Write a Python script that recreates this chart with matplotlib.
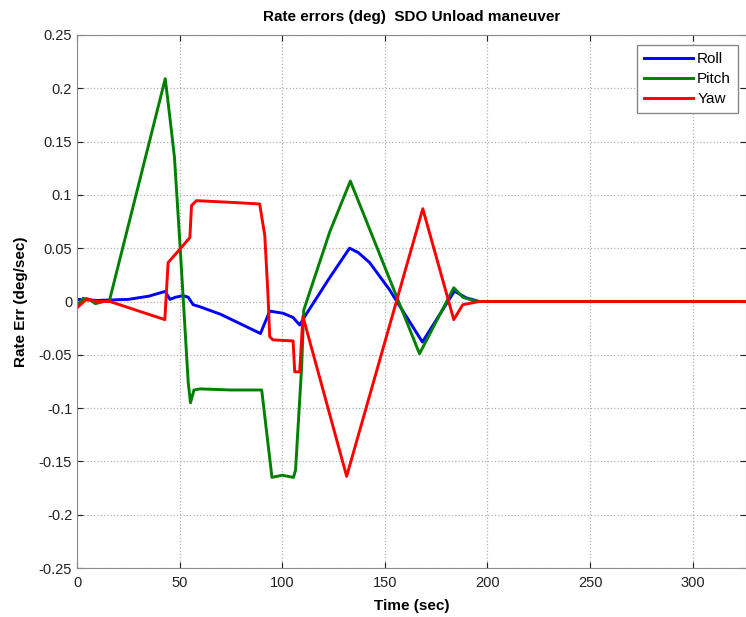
import numpy as np
import matplotlib
matplotlib.use('Agg')
import matplotlib.pyplot as plt

plt.rcParams['font.family'] = ['Liberation Sans', 'DejaVu Sans']
plt.rcParams['axes.unicode_minus'] = False

# breakpoints (time in sec, rate error in deg/sec)
roll_t = [0, 10, 25, 35, 43, 45.3, 48, 51.7, 54.2, 56.6, 60, 70, 89.4, 93.9,
          100.4, 105.3, 108.5, 111, 123, 132.8, 137, 142.6, 152.3, 168.3,
          183.9, 189.6, 196, 326]
roll_v = [0.002, 0.001, 0.002, 0.005, 0.0095, 0.002, 0.004, 0.0055, 0.004,
          -0.003, -0.005, -0.012, -0.030, -0.009, -0.011, -0.015, -0.022,
          -0.014, 0.022, 0.050, 0.046, 0.0365, 0.011, -0.038, 0.0097, 0.0035,
          0.0, 0.0]

pitch_t = [0, 3, 6, 9, 13, 15.7, 43.0, 45.3, 47.5, 50.1, 54.2, 55.3, 57, 60,
           75, 90, 95, 100, 105.5, 106.5, 109.5, 110.5, 123.1, 133.2, 166.9,
           183.6, 188, 194.5, 326]
pitch_v = [-0.004, 0.003, 0.002, -0.002, 0.0, 0.0, 0.209, 0.172, 0.135,
           0.056, -0.076, -0.095, -0.083, -0.082, -0.083, -0.083, -0.165,
           -0.163, -0.165, -0.158, -0.06, -0.008, 0.065, 0.113, -0.049,
           0.0129, 0.004, 0.0, 0.0]

yaw_t = [0, 4.7, 9.6, 16, 42.8, 44.4, 50.1, 55, 55.8, 58.2, 75, 89, 91.5,
         93.1, 93.9, 95.5, 105.3, 106.1, 108.5, 110.1, 131.4, 168.5, 183.6,
         188, 196, 326]
yaw_v = [-0.006, 0.0025, 0.0, 0.0, -0.017, 0.0365, 0.049, 0.060, 0.090,
         0.0946, 0.093, 0.0915, 0.062, 0.005, -0.033, -0.036, -0.037, -0.066,
         -0.066, -0.014, -0.164, 0.087, -0.017, -0.003, 0.0, 0.0]

ytick_labels = ['-0.25', '-0.2', '-0.15', '-0.1', '-0.05', '0', '0.05',
                '0.1', '0.15', '0.2', '0.25']

fig = plt.figure(figsize=(7.46, 6.17), dpi=100)
ax = fig.add_axes([77 / 746, 49 / 617, 669 / 746, 533 / 617])

ax.plot(roll_t, roll_v, color='#0000ff', lw=2.1, label='Roll')
ax.plot(pitch_t, pitch_v, color='#008000', lw=2.1, label='Pitch')
ax.plot(yaw_t, yaw_v, color='#ff0000', lw=2.1, label='Yaw')

ax.set_xlim(0, 326)
ax.set_ylim(-0.25, 0.25)
ax.set_xticks(np.arange(0, 301, 50))
ax.set_yticks(np.linspace(-0.25, 0.25, 11))
ax.set_yticklabels(ytick_labels)

ax.grid(True, linestyle=':', color='#b0b0b0', linewidth=0.9)
ax.tick_params(direction='in', top=True, right=True, labelsize=10.5,
               colors='#222222', length=4)
ax.tick_params(axis='x', pad=6)
for s in ax.spines.values():
    s.set_color('#8a8a8a')

ax.set_title('Rate errors (deg)  SDO Unload maneuver', fontsize=11,
             fontweight='bold', pad=10)
ax.set_xlabel('Time (sec)', fontsize=11, fontweight='bold', labelpad=6)
ax.set_ylabel('Rate Err (deg/sec)', fontsize=11, fontweight='bold', labelpad=8)

leg = ax.legend(loc='upper right', fontsize=11, fancybox=False,
                framealpha=1, edgecolor='#888888', handlelength=3.2,
                labelspacing=0.4, handletextpad=0.3, borderpad=0.45,
                borderaxespad=0, bbox_to_anchor=(0.988, 0.981))
leg.get_frame().set_linewidth(1.0)

fig.savefig('out.png', dpi=100)
